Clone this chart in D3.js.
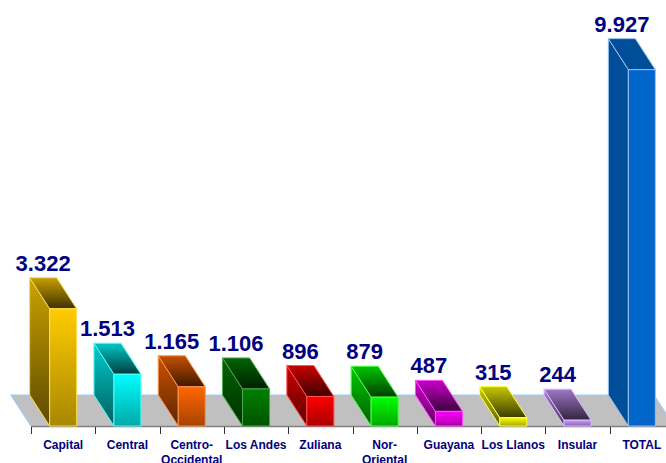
<!DOCTYPE html>
<html><head><meta charset="utf-8">
<script src="https://cdn.jsdelivr.net/npm/d3@7"></script>
<style>html,body{margin:0;padding:0;background:#fff;} svg{display:block}</style>
</head><body><svg id="chart" width="666" height="463"></svg>
<script>
const categories = ["Capital","Central","Centro-Occidental","Los Andes","Zuliana","Nor-Oriental","Guayana","Los Llanos","Insular","TOTAL"];
const values = [3322,1513,1165,1106,896,879,487,315,244,9927];
const barColors = ["#FFCC00","#00FFFF","#FF6600","#008000","#FF0000","#00FF00","#FF00FF","#FFFF00","#CC99FF","#0066CC"];
const flatBars = ["TOTAL"];

const W = 666, H = 463;
const floorY = 426, dX = -20, dY = -31;
const fmt = d3.formatLocale({decimal: ",", thousands: ".", grouping: [3], currency: ["", ""]}).format(",d");

const svg = d3.select("#chart");
svg.append("rect").attr("width", W).attr("height", H).attr("fill", "#fff");

const x = d3.scaleBand().domain(categories).range([31, 674]).paddingInner(0.58).paddingOuter(0.29);
const y = d3.scaleLinear().domain([0, 10000]).range([429, 67]);

const x0 = x.range()[0], x1 = x.range()[1];
const step = x.step();

function shade(c, k) { const r = d3.rgb(c); return d3.rgb(r.r * k, r.g * k, r.b * k).formatHex(); }

// floor
svg.append("polygon")
  .attr("points", [[x0, floorY], [x1, floorY], [x1 + dX, floorY + dY], [x0 + dX, floorY + dY]].map(p => p.join(",")).join(" "))
  .attr("fill", "#C0C0C0");
svg.append("path")
  .attr("d", `M${x0},${floorY}L${x0 + dX},${floorY + dY}L${x1 + dX},${floorY + dY}L${x1},${floorY}`)
  .attr("fill", "none").attr("stroke", "#99CCFF").attr("stroke-width", 1.2);
svg.append("line").attr("x1", x0).attr("x2", x1).attr("y1", floorY + 0.5).attr("y2", floorY + 0.5)
  .attr("stroke", "#808080").attr("stroke-width", 1.5);
// ticks at category boundaries
const bounds = categories.map(c => x(c) - (step - x.bandwidth()) / 2).concat([x1]);
svg.append("g").selectAll("line").data(bounds).join("line")
  .attr("x1", d => Math.round(d) + 0.5).attr("x2", d => Math.round(d) + 0.5)
  .attr("y1", floorY + 1).attr("y2", floorY + 8)
  .attr("stroke", "#333").attr("stroke-width", 1);

// gradients
const defs = svg.append("defs");
categories.forEach((c, i) => {
  const col = barColors[i];
  const flat = flatBars.includes(c);
  const specs = flat
    ? {front: [col, col], side: [shade(col, 0.75), shade(col, 0.75)], top: [shade(col, 0.75), shade(col, 0.75)]}
    : {front: [col, shade(col, 0.66)], side: [shade(col, 0.8), shade(col, 0.36)], top: [shade(col, 0.78), shade(col, 0.24)]};
  Object.entries(specs).forEach(([k, s]) => {
    const g = defs.append("linearGradient").attr("id", `g${k}${i}`).attr("x1", 0).attr("y1", 0).attr("x2", 0).attr("y2", 1);
    g.append("stop").attr("offset", 0).attr("stop-color", s[0]);
    g.append("stop").attr("offset", 1).attr("stop-color", s[1]);
  });
});

const data = categories.map((c, i) => ({c, v: values[i], i}));
const bars = svg.append("g").selectAll("g").data(data).join("g");
const outline = d => flatBars.includes(d.c) ? d3.interpolateRgb(barColors[d.i], "#fff")(0.6) : d3.interpolateRgb(barColors[d.i], "#fff")(0.3);

bars.each(function (d) {
  const g = d3.select(this);
  const xl = x(d.c), xr = xl + x.bandwidth();
  const yt = y(d.v), yb = floorY;
  const pts = a => a.map(p => p.join(",")).join(" ");
  g.append("polygon")
    .attr("points", pts([[xl, yt], [xl, yb], [xl + dX, yb + dY], [xl + dX, yt + dY]]))
    .attr("fill", `url(#gside${d.i})`).attr("stroke", outline(d)).attr("stroke-width", 1).attr("stroke-linejoin", "round");
  g.append("polygon")
    .attr("points", pts([[xl, yt], [xr, yt], [xr + dX, yt + dY], [xl + dX, yt + dY]]))
    .attr("fill", `url(#gtop${d.i})`).attr("stroke", outline(d)).attr("stroke-width", 1).attr("stroke-linejoin", "round");
  g.append("rect")
    .attr("x", xl).attr("y", yt).attr("width", xr - xl).attr("height", yb - yt)
    .attr("fill", `url(#gfront${d.i})`).attr("stroke", outline(d)).attr("stroke-width", 1);
});

// value labels
svg.append("g").selectAll("text").data(data).join("text")
  .attr("x", d => x(d.c) + dX + x.bandwidth() / 2)
  .attr("y", d => y(d.v) + dY - 7)
  .attr("text-anchor", "middle")
  .attr("font-family", "'Liberation Sans', Arial, sans-serif")
  .attr("font-weight", "bold").attr("font-size", 22)
  .attr("fill", "#000080")
  .text(d => fmt(d.v));

// category labels
const cl = svg.append("g").selectAll("text").data(categories).join("text")
  .attr("x", d => x(d) + x.bandwidth() / 2)
  .attr("y", 449)
  .attr("text-anchor", "middle")
  .attr("font-family", "'Liberation Sans', Arial, sans-serif")
  .attr("font-weight", "bold").attr("font-size", 12)
  .attr("fill", "#000080");
cl.each(function (d) {
  const parts = d.split(/(?<=-)/);
  const t = d3.select(this);
  parts.forEach((p, j) => {
    t.append("tspan").attr("x", x(d) + x.bandwidth() / 2).attr("dy", j === 0 ? 0 : 15).text(p);
  });
});
</script>
</body></html>
